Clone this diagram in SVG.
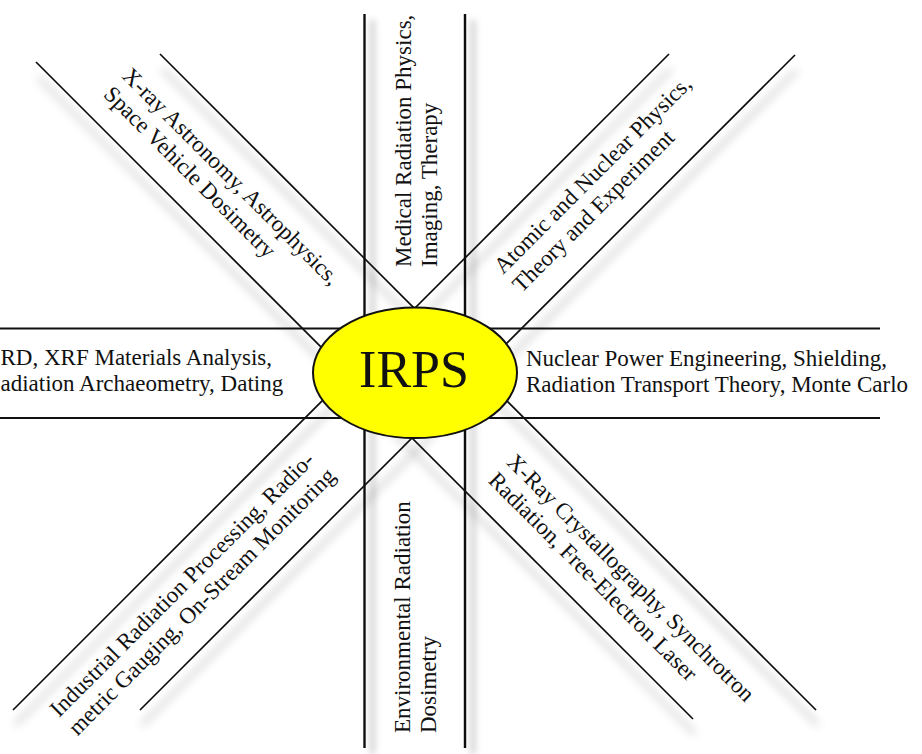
<svg xmlns="http://www.w3.org/2000/svg" width="922" height="754" viewBox="0 0 922 754">
<defs>
<filter id="shDiag" x="-20%" y="-20%" width="140%" height="140%">
<feGaussianBlur in="SourceAlpha" stdDeviation="5"/>
<feOffset dx="2" dy="15" result="b"/>
<feFlood flood-color="#000" flood-opacity="0.45"/>
<feComposite in2="b" operator="in"/>
<feMerge><feMergeNode/><feMergeNode in="SourceGraphic"/></feMerge>
</filter>
<filter id="shVert" x="-500%" y="-5%" width="1100%" height="110%">
<feGaussianBlur in="SourceAlpha" stdDeviation="3.5"/>
<feOffset dx="8" dy="6" result="b"/>
<feFlood flood-color="#000" flood-opacity="0.4"/>
<feComposite in2="b" operator="in"/>
<feMerge><feMergeNode/><feMergeNode in="SourceGraphic"/></feMerge>
</filter>
</defs>
<style>
.ln{stroke:#111;fill:none;stroke-linecap:butt}
.d{stroke-width:1.7}
.v{stroke-width:2.4}
.h{stroke-width:2}
.t{font-family:"Liberation Serif","Times New Roman",serif;font-size:23px;fill:#111}
.c{font-family:"Liberation Serif","Times New Roman",serif;font-size:52px;fill:#111;text-anchor:middle}
</style>
<rect width="922" height="754" fill="#fff"/>
<g id="connectors">
<g filter="url(#shDiag)">
<line class="ln d" x1="160" y1="54" x2="816" y2="710"/>
<line class="ln d" x1="36" y1="62" x2="693" y2="719"/>
<line class="ln d" x1="669" y1="54" x2="13" y2="710"/>
<line class="ln d" x1="795" y1="55" x2="140" y2="710"/>
</g>
<g filter="url(#shVert)">
<line class="ln v" x1="364.5" y1="14" x2="364.5" y2="748"/>
<line class="ln v" x1="465" y1="14" x2="465" y2="748"/>
</g>
<line class="ln h" x1="0" y1="328.5" x2="880" y2="328.5"/>
<line class="ln h" x1="0" y1="418" x2="880" y2="418"/>
</g>
<g id="irps">
<ellipse cx="415" cy="372.8" rx="102" ry="65.3" fill="#ffff00" stroke="#111" stroke-width="2"/>
<text class="c" x="414" y="387">IRPS</text>
</g>
<g id="medical">
<text class="t" transform="translate(411,267) rotate(-90)"><tspan x="0" y="0">Medical Radiation Physics,</tspan><tspan x="0" y="26">Imaging, Therapy</tspan></text>
</g>
<g id="environmental">
<text class="t" transform="translate(410,733) rotate(-90)"><tspan x="0" y="0">Environmental Radiation</tspan><tspan x="0" y="26">Dosimetry</tspan></text>
</g>
<g id="materials">
<text class="t" x="0.5" y="365"><tspan x="0.5" y="365">RD, XRF Materials Analysis,</tspan><tspan x="0.5" y="391">adiation Archaeometry, Dating</tspan></text>
</g>
<g id="nuclear-power">
<text class="t" x="526" y="366"><tspan x="526" y="366">Nuclear Power Engineering, Shielding,</tspan><tspan x="526" y="392">Radiation Transport Theory, Monte Carlo</tspan></text>
</g>
<g id="xray-astronomy">
<text class="t" transform="translate(121,77) rotate(45)"><tspan x="0" y="0">X-ray Astronomy, Astrophysics,</tspan><tspan x="0" y="26">Space Vehicle Dosimetry</tspan></text>
</g>
<g id="atomic-nuclear">
<text class="t" transform="translate(503,275) rotate(-45)"><tspan x="0" y="0">Atomic and Nuclear Physics,</tspan><tspan x="0" y="26">Theory and Experiment</tspan></text>
</g>
<g id="industrial">
<text class="t" transform="translate(59,718) rotate(-45)"><tspan x="0" y="0">Industrial Radiation Processing, Radio-</tspan><tspan x="0" y="26">metric Gauging, On-Stream Monitoring</tspan></text>
</g>
<g id="crystallography">
<text class="t" transform="translate(505.6,463.2) rotate(45)"><tspan x="0" y="0">X-Ray Crystallography, Synchrotron</tspan><tspan x="0" y="26">Radiation, Free-Electron Laser</tspan></text>
</g>
</svg>
